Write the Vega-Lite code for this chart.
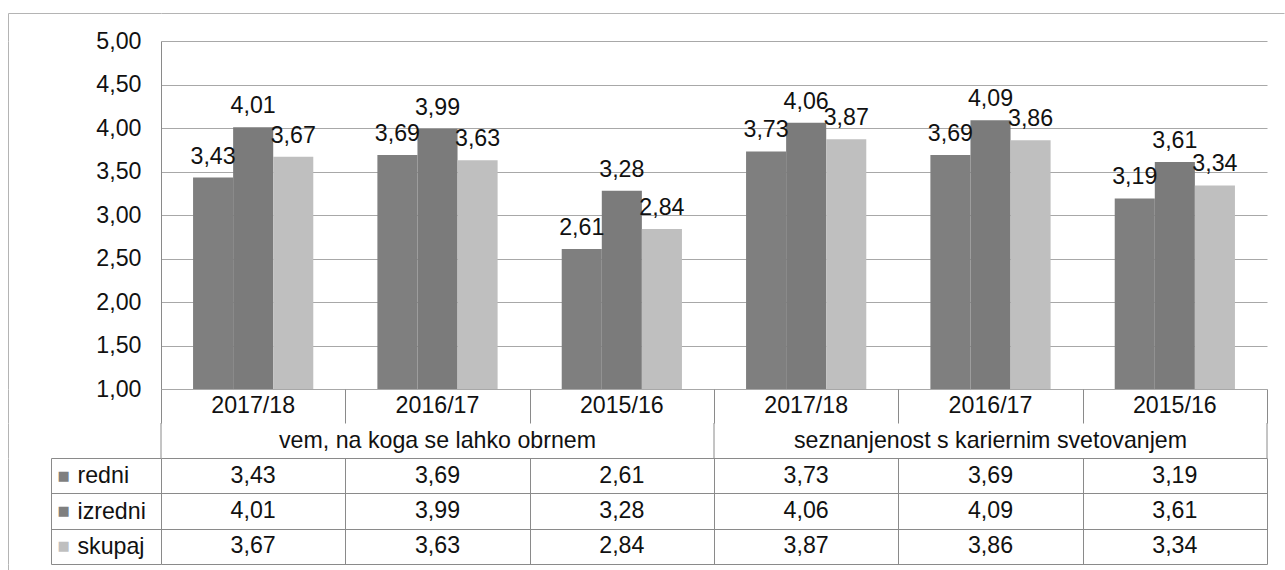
{
  "$schema": "https://vega.github.io/schema/vega-lite/v6.json",
  "bounds": "flush",
  "spacing": 0,
  "padding": {"left": 7, "top": 12, "right": 2, "bottom": 0},
  "background": "white",
  "config": {
    "locale": {"number": {"decimal": ",", "thousands": ".", "grouping": [3], "currency": ["", " €"]}},
    "font": "Liberation Sans",
    "view": {"stroke": null},
    "axis": {"labelFont": "Liberation Sans", "labelFontSize": 23.2, "labelColor": "#111111", "title": null},
    "text": {"font": "Liberation Sans", "fontSize": 23.2, "color": "#111111"}
  },
  "datasets": {
    "bars": [
      {"cat": "vem 2017/18", "series": "redni", "value": 3.43},
      {"cat": "vem 2017/18", "series": "izredni", "value": 4.01},
      {"cat": "vem 2017/18", "series": "skupaj", "value": 3.67},
      {"cat": "vem 2016/17", "series": "redni", "value": 3.69},
      {"cat": "vem 2016/17", "series": "izredni", "value": 3.99},
      {"cat": "vem 2016/17", "series": "skupaj", "value": 3.63},
      {"cat": "vem 2015/16", "series": "redni", "value": 2.61},
      {"cat": "vem 2015/16", "series": "izredni", "value": 3.28},
      {"cat": "vem 2015/16", "series": "skupaj", "value": 2.84},
      {"cat": "sez 2017/18", "series": "redni", "value": 3.73},
      {"cat": "sez 2017/18", "series": "izredni", "value": 4.06},
      {"cat": "sez 2017/18", "series": "skupaj", "value": 3.87},
      {"cat": "sez 2016/17", "series": "redni", "value": 3.69},
      {"cat": "sez 2016/17", "series": "izredni", "value": 4.09},
      {"cat": "sez 2016/17", "series": "skupaj", "value": 3.86},
      {"cat": "sez 2015/16", "series": "redni", "value": 3.19},
      {"cat": "sez 2015/16", "series": "izredni", "value": 3.61},
      {"cat": "sez 2015/16", "series": "skupaj", "value": 3.34}
    ],
    "cats": [
      {"cat": "vem 2017/18", "year": "2017/18"},
      {"cat": "vem 2016/17", "year": "2016/17"},
      {"cat": "vem 2015/16", "year": "2015/16"},
      {"cat": "sez 2017/18", "year": "2017/18"},
      {"cat": "sez 2016/17", "year": "2016/17"},
      {"cat": "sez 2015/16", "year": "2015/16"}
    ],
    "groups": [
      {"cat": "vem 2016/17", "label": "vem, na koga se lahko obrnem"},
      {"cat": "sez 2016/17", "label": "seznanjenost s kariernim svetovanjem"}
    ],
    "frame": [{"k": "f"}]
  },
  "vconcat": [
    {
      "width": 1123,
      "height": 28,
      "data": {"name": "frame"},
      "encoding": {
        "x": {"field": "k", "type": "nominal", "scale": {"paddingInner": 0, "paddingOuter": 0},
              "axis": {"orient": "top", "domain": true, "domainColor": "#b4b4b4", "labels": false, "ticks": false, "grid": false}}
      },
      "layer": [
        {
          "mark": {"type": "text", "text": "", "fontSize": 1, "baseline": "top"},
          "encoding": {
            "y": {"field": "k", "type": "nominal", "scale": {"type": "point", "padding": 0, "align": 0},
                  "axis": {"domain": false, "ticks": true, "tickSize": 153, "tickColor": "#b4b4b4", "labels": false, "grid": false}}
          }
        },
        {
          "mark": {"type": "text", "text": "", "fontSize": 1, "baseline": "top"},
          "encoding": {
            "y": {"field": "k", "type": "nominal", "scale": {"type": "point", "padding": 0, "align": 0},
                  "axis": {"orient": "left", "offset": 153, "domain": true, "domainColor": "#b4b4b4", "ticks": false, "labels": false, "grid": false}}
          }
        }
      ],
      "resolve": {"axis": {"y": "independent"}}
    },
    {
      "width": 1106,
      "height": 348,
      "data": {"name": "bars"},
      "encoding": {
        "x": {"field": "cat", "type": "nominal", "sort": null,
              "scale": {"domain": ["vem 2017/18", "vem 2016/17", "vem 2015/16", "sez 2017/18", "sez 2016/17", "sez 2015/16"], "paddingInner": 0, "paddingOuter": 0},
              "axis": null},
        "xOffset": {"field": "series", "type": "nominal",
                    "scale": {"domain": ["redni", "izredni", "skupaj"], "paddingInner": 0, "paddingOuter": 0.8}}
      },
      "layer": [
        {
          "mark": {"type": "bar"},
          "encoding": {
            "y": {"field": "value", "type": "quantitative",
                  "scale": {"domain": [1, 5], "zero": false, "nice": false},
                  "axis": {"values": [1, 1.5, 2, 2.5, 3, 3.5, 4, 4.5, 5], "format": ".2f", "grid": true, "gridColor": "#a8a8a8",
                           "domain": true, "domainColor": "#8a8a8a", "ticks": false, "labelPadding": 20, "labelFlush": false}},
            "y2": {"datum": 1},
            "color": {"field": "series", "type": "nominal",
                      "scale": {"domain": ["redni", "izredni", "skupaj"], "range": ["#7f7f7f", "#7b7b7b", "#bfbfbf"]},
                      "legend": null}
          }
        },
        {
          "mark": {"type": "text", "baseline": "alphabetic", "dy": -14},
          "encoding": {
            "y": {"field": "value", "type": "quantitative",
                  "scale": {"domain": [1, 5], "zero": false, "nice": false},
                  "axis": {"orient": "left", "offset": 153, "domain": true, "domainColor": "#b4b4b4", "ticks": false, "labels": false, "grid": false}},
            "text": {"field": "value", "type": "quantitative", "format": ".2f"}
          }
        }
      ],
      "resolve": {"axis": {"y": "independent"}}
    },
    {
      "width": 1106,
      "height": 34,
      "data": {"name": "cats"},
      "mark": {"type": "text"},
      "encoding": {
        "x": {"field": "cat", "type": "nominal", "sort": null,
              "scale": {"domain": ["vem 2017/18", "vem 2016/17", "vem 2015/16", "sez 2017/18", "sez 2016/17", "sez 2015/16"], "paddingInner": 0, "paddingOuter": 0},
              "axis": {"grid": true, "tickBand": "extent", "gridColor": "#8a8a8a", "labels": false, "ticks": false, "domain": false}},
        "y": {"datum": "r", "type": "nominal", "scale": {"paddingInner": 0, "paddingOuter": 0},
              "axis": {"orient": "left", "offset": 153, "domain": true, "domainColor": "#b4b4b4", "ticks": false, "labels": false, "grid": false}},
        "text": {"field": "year"}
      }
    },
    {
      "width": 1106,
      "height": 35,
      "layer": [
        {
          "data": {"name": "groups"},
          "mark": {"type": "text"},
          "encoding": {
            "x": {"field": "cat", "type": "nominal", "sort": null,
                  "scale": {"domain": ["vem 2017/18", "vem 2016/17", "vem 2015/16", "sez 2017/18", "sez 2016/17", "sez 2015/16"], "paddingInner": 0, "paddingOuter": 0},
                  "axis": null},
            "y": {"datum": "r", "type": "nominal", "scale": {"paddingInner": 0, "paddingOuter": 0},
                  "axis": {"orient": "left", "offset": 153, "domain": true, "domainColor": "#b4b4b4", "ticks": false, "labels": false, "grid": false}},
            "text": {"field": "label"}
          }
        },
        {
          "data": {"values": [{"cat": "vem 2017/18"}, {"cat": "sez 2017/18"}]},
          "mark": {"type": "rule", "color": "#8a8a8a"},
          "encoding": {
            "x": {"field": "cat", "type": "nominal", "bandPosition": 0}
          }
        },
        {
          "data": {"values": [{"cat": "sez 2015/16"}]},
          "mark": {"type": "rule", "color": "#8a8a8a"},
          "encoding": {
            "x": {"field": "cat", "type": "nominal", "bandPosition": 1}
          }
        }
      ]
    },
    {
      "width": 1106,
      "height": 106,
      "data": {"name": "bars"},
      "encoding": {
        "x": {"field": "cat", "type": "nominal", "sort": null,
              "scale": {"domain": ["vem 2017/18", "vem 2016/17", "vem 2015/16", "sez 2017/18", "sez 2016/17", "sez 2015/16"], "paddingInner": 0, "paddingOuter": 0},
              "axis": {"grid": true, "tickBand": "extent", "gridColor": "#8a8a8a", "labels": false, "ticks": false, "domain": false}}
      },
      "layer": [
        {
          "mark": {"type": "text"},
          "encoding": {
            "y": {"field": "series", "type": "nominal", "sort": null,
                  "scale": {"domain": ["redni", "izredni", "skupaj"], "paddingInner": 0, "paddingOuter": 0},
                  "axis": {"grid": true, "tickBand": "extent", "gridColor": "#8a8a8a", "ticks": true, "tickSize": 110,
                           "tickColor": "#8a8a8a", "domain": false, "labelAlign": "left", "labelPadding": -26}},
            "text": {"field": "value", "type": "quantitative", "format": ".2f"}
          }
        },
        {
          "mark": {"type": "text", "text": "", "fontSize": 1},
          "encoding": {
            "y": {"field": "series", "type": "nominal", "sort": null,
                  "scale": {"domain": ["redni", "izredni", "skupaj"], "paddingInner": 0, "paddingOuter": 0},
                  "axis": {"orient": "left", "offset": 110, "domain": true, "domainColor": "#8a8a8a", "ticks": false, "grid": false,
                           "labelExpr": "'■'", "labelFont": "DejaVu Sans", "labelFontSize": 13,
                           "labelColor": {"condition": {"test": "datum.value === 'skupaj'", "value": "#bfbfbf"}, "value": "#7f7f7f"},
                           "labelAlign": "left", "labelPadding": -6}}
          }
        },
        {
          "mark": {"type": "text", "text": "", "fontSize": 1},
          "encoding": {
            "y": {"field": "series", "type": "nominal", "sort": null,
                  "scale": {"domain": ["redni", "izredni", "skupaj"], "paddingInner": 0, "paddingOuter": 0},
                  "axis": {"orient": "left", "offset": 153, "domain": true, "domainColor": "#b4b4b4", "ticks": false, "labels": false, "grid": false}}
          }
        }
      ],
      "resolve": {"axis": {"y": "independent"}}
    },
    {
      "width": 1106,
      "height": 7,
      "data": {"name": "frame"},
      "mark": {"type": "text", "text": "", "fontSize": 1},
      "encoding": {
        "y": {"field": "k", "type": "nominal", "scale": {"paddingInner": 0, "paddingOuter": 0},
              "axis": {"orient": "left", "offset": 153, "domain": true, "domainColor": "#b4b4b4", "ticks": false, "labels": false, "grid": false}}
      }
    }
  ]
}
